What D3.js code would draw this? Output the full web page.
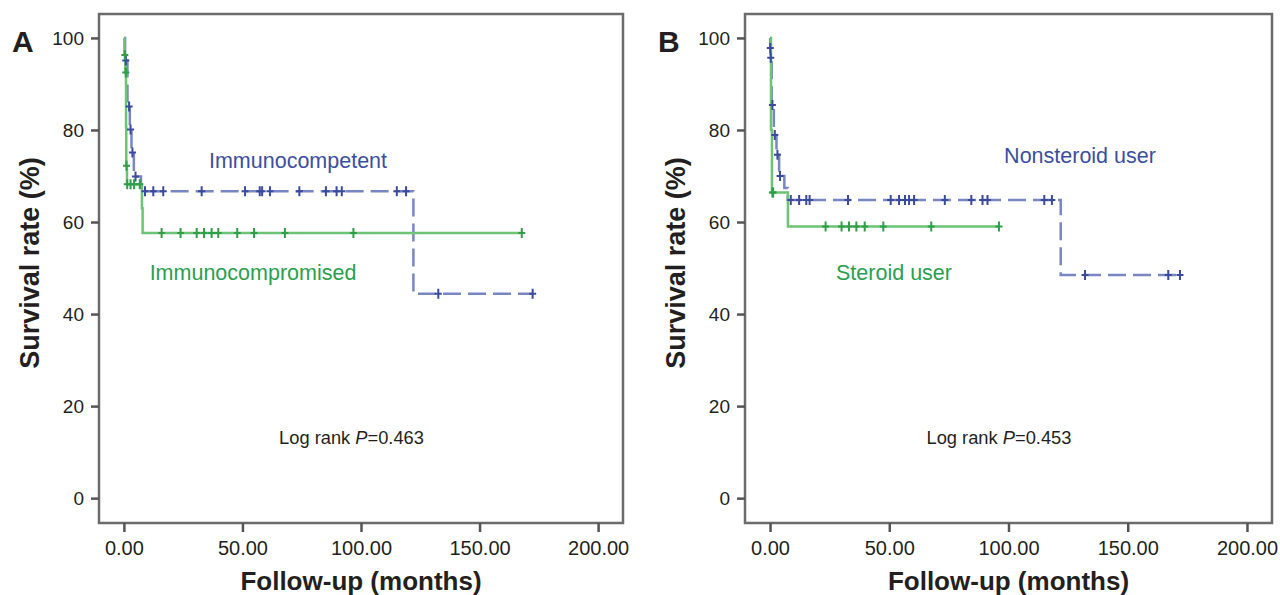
<!DOCTYPE html>
<html>
<head>
<meta charset="UTF-8" />
<title>Kaplan-Meier survival</title>
<script src="https://d3js.org/d3.v7.min.js"></script>
<style>
  body { margin: 0; background: #fff; }
  svg text { font-family: "Liberation Sans", Arial, sans-serif; fill: #231f20; }
</style>
</head>
<body>
<div id="main"></div>
<script>
// ---- data (months, survival %) ----
var xTicks = [0, 50, 100, 150, 200];
var yTicks = [0, 20, 40, 60, 80, 100];

// panel A
var aCompTimes = [0, 0.5, 1.5, 2.5, 3.2, 4.2, 7.2, 122.1];
var aCompSurv = [100, 95.1, 85.1, 80.1, 75.1, 69.9, 66.7, 44.4];
var aCompCensor = [0.8, 2.2, 2.8, 3.6, 4.9, 8.9, 12.4, 16.6, 32.8, 51.1, 57.3, 58.3, 61.6, 74.0, 85.2, 89.7, 91.9, 115.1, 119.0, 132.6, 172.4];
var aPromTimes = [0, 0.2, 0.6, 0.9, 1.0, 1.3, 7.6, 7.9];
var aPromSurv = [100, 96.3, 92.5, 80.7, 72.2, 68.2, 63.0, 57.6];
var aPromCensor = [0.4, 0.8, 1.1, 1.4, 2.8, 4.3, 6.7, 15.9, 23.9, 30.7, 33.8, 37.0, 39.8, 47.8, 54.9, 67.9, 96.8, 167.8];

// panel B
var bNonTimes = [0, 0.05, 0.25, 0.7, 1.6, 2.7, 3.8, 6.0, 7.4, 121.9];
var bNonSurv = [100, 97.8, 95.7, 85.4, 78.9, 74.6, 70.0, 67.4, 64.8, 48.5];
var bNonCensor = [0.1, 0.3, 1.0, 2.0, 3.1, 4.2, 8.7, 12.2, 15.2, 16.6, 32.7, 50.6, 54.1, 56.6, 58.3, 60.4, 73.3, 84.4, 89.1, 91.2, 115.0, 118.2, 132.1, 167.0, 171.9];
var bSterTimes = [0, 0.4, 0.8, 7.5];
var bSterSurv = [100, 80.0, 66.4, 59.0];
var bSterCensor = [1.0, 1.3, 23.3, 30.0, 33.1, 36.2, 39.7, 47.5, 67.6, 96.0];

(function () {
  var blueLine = '#7886c4', blueMark = '#3a4b9e', blueText = '#3c4f9f';
  var greenLine = '#6cc474', greenMark = '#2f9e48', greenText = '#2aa04e';

  var width = 1280, height = 595;
  var svg = d3.select('#main').append('svg').attr('width', width).attr('height', height);

  var panels = [
    {
      letter: 'A', left: 99, right: 623, p: '0.463',
      curves: [
        { times: aCompTimes, surv: aCompSurv, censor: aCompCensor, line: blueLine, mark: blueMark, dash: '18,7' },
        { times: aPromTimes, surv: aPromSurv, censor: aPromCensor, line: greenLine, mark: greenMark, dash: null }
      ],
      labels: [
        { text: 'Immunocompetent', x: 298, y: 168, color: blueText },
        { text: 'Immunocompromised', x: 253, y: 280, color: greenText }
      ]
    },
    {
      letter: 'B', left: 745, right: 1272, p: '0.453',
      curves: [
        { times: bNonTimes, surv: bNonSurv, censor: bNonCensor, line: blueLine, mark: blueMark, dash: '18,7' },
        { times: bSterTimes, surv: bSterSurv, censor: bSterCensor, line: greenLine, mark: greenMark, dash: null }
      ],
      labels: [
        { text: 'Nonsteroid user', x: 1080, y: 163, color: blueText },
        { text: 'Steroid user', x: 894, y: 280, color: greenText }
      ]
    }
  ];

  var plotTop = 14, plotBottom = 523;

  panels.forEach(function (pn) {
    var x = d3.scaleLinear().domain([-10.5, 210.5]).range([pn.left, pn.right]);
    var y = d3.scaleLinear().domain([-5.4, 105.2]).range([plotBottom, plotTop]);
    var g = svg.append('g');

    // frame
    g.append('rect')
      .attr('x', pn.left).attr('y', plotTop)
      .attr('width', pn.right - pn.left).attr('height', plotBottom - plotTop)
      .attr('fill', 'none').attr('stroke', '#6b6b6b').attr('stroke-width', 2.5);

    // axes
    var yAxis = g.append('g').attr('transform', 'translate(' + pn.left + ',0)')
      .call(d3.axisLeft(y).tickValues(yTicks).tickSize(8).tickPadding(7).tickFormat(d3.format('d')));
    var xAxis = g.append('g').attr('transform', 'translate(0,' + plotBottom + ')')
      .call(d3.axisBottom(x).tickValues(xTicks).tickSize(9).tickPadding(9).tickFormat(d3.format('.2f')));
    [yAxis, xAxis].forEach(function (ax) {
      ax.select('.domain').remove();
      ax.selectAll('.tick line').attr('stroke', '#555').attr('stroke-width', 2.5);
      ax.selectAll('.tick text').attr('font-family', '"Liberation Sans", Arial, sans-serif').attr('fill', '#231f20');
    });
    yAxis.selectAll('.tick text').attr('font-size', 19);
    xAxis.selectAll('.tick text').attr('font-size', 20);

    // curves (step lines first, censor marks on top)
    var stepLine = d3.line().x(function (d) { return x(d[0]); }).y(function (d) { return y(d[1]); }).curve(d3.curveStepAfter);
    pn.curves.forEach(function (c) {
      var pts = c.times.map(function (t, i) { return [t, c.surv[i]]; });
      var tEnd = d3.max(c.censor.concat(c.times));
      pts.push([tEnd, c.surv[c.surv.length - 1]]);
      g.append('path').datum(pts)
        .attr('d', stepLine).attr('fill', 'none')
        .attr('stroke', c.line).attr('stroke-width', 2.5)
        .attr('stroke-dasharray', c.dash);
    });
    pn.curves.forEach(function (c) {
      var survAt = function (t) {
        var s = c.surv[0];
        c.times.forEach(function (tt, i) { if (tt <= t) s = c.surv[i]; });
        return s;
      };
      g.selectAll(null).data(c.censor).enter().append('path')
        .attr('transform', function (d) { return 'translate(' + x(d) + ',' + y(survAt(d)) + ')'; })
        .attr('d', 'M0,-5V5M-3.5,0H3.5')
        .attr('stroke', c.mark).attr('stroke-width', 2).attr('fill', 'none');
    });

    // labels
    pn.labels.forEach(function (l) {
      g.append('text').attr('x', l.x).attr('y', l.y).attr('text-anchor', 'middle')
        .attr('font-size', 21.5).style('fill', l.color).text(l.text);
    });

    var lr = g.append('text').attr('x', x(96)).attr('y', 444).attr('text-anchor', 'middle').attr('font-size', 18.3);
    lr.append('tspan').text('Log rank ');
    lr.append('tspan').attr('font-style', 'italic').text('P');
    lr.append('tspan').text('=' + pn.p);

    // titles
    g.append('text').attr('x', x(100)).attr('y', 590).attr('text-anchor', 'middle')
      .attr('font-size', 26).attr('font-weight', 'bold').text('Follow-up (months)');
    g.append('text').attr('transform', 'translate(' + (pn.left - 60) + ',' + 263 + ') rotate(-90)')
      .attr('text-anchor', 'middle').attr('font-size', 27).attr('font-weight', 'bold').text('Survival rate (%)');
    g.append('text').attr('x', pn.left - 87).attr('y', 52)
      .attr('font-size', 30).attr('font-weight', 'bold').text(pn.letter);
  });
})();
</script>
</body>
</html>
